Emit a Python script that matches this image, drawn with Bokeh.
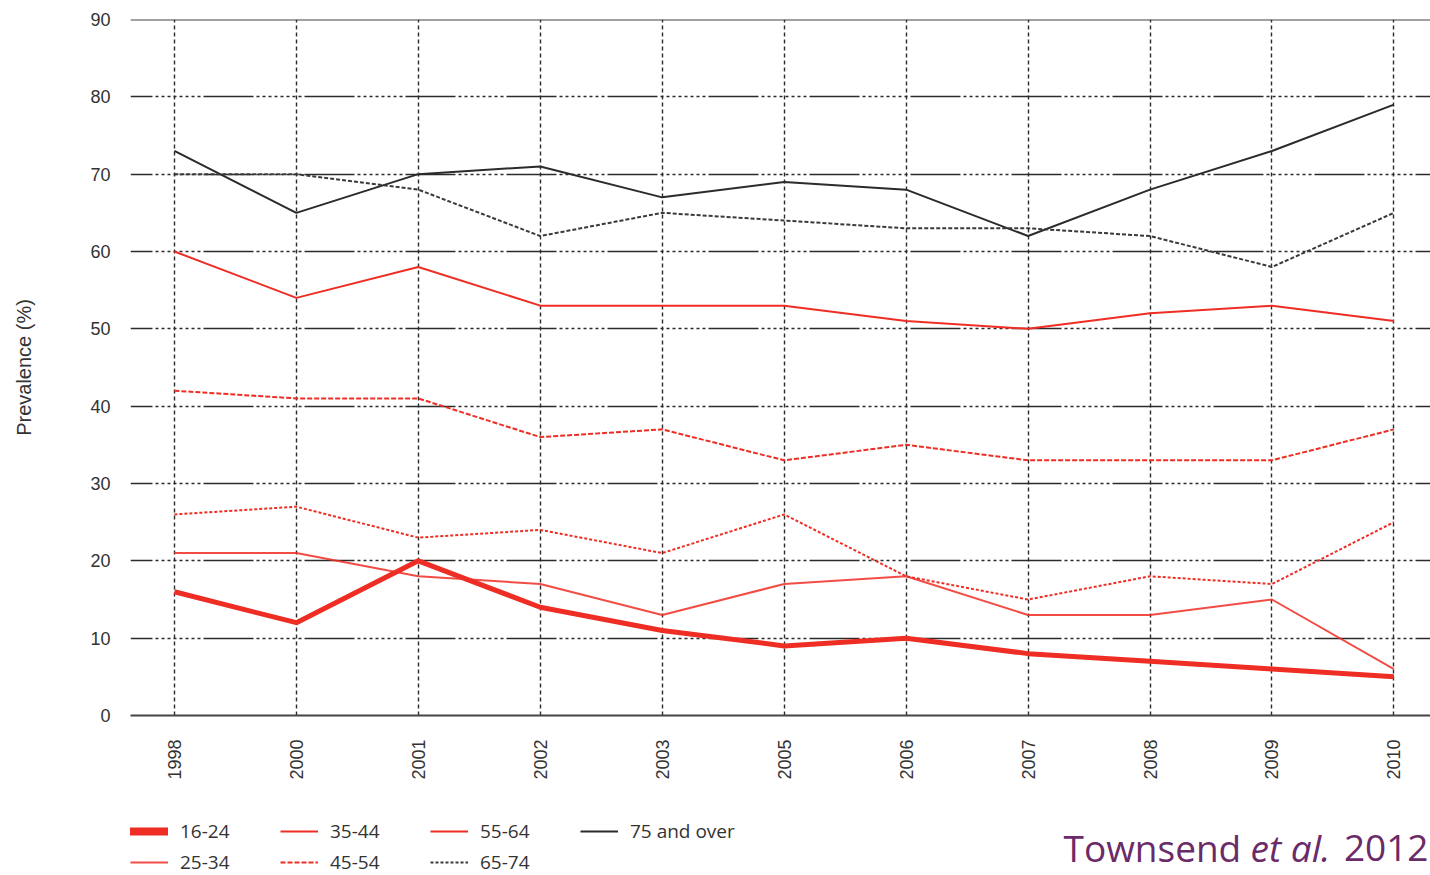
import math

from bokeh.embed import file_html
from bokeh.layouts import column
from bokeh.models import FixedTicker, Label, Legend, LegendItem, Range1d, Span
from bokeh.plotting import figure
from bokeh.resources import INLINE

# Survey years (categorical, evenly spaced on the x axis)
years = ["1998", "2000", "2001", "2002", "2003", "2005", "2006", "2007", "2008", "2009", "2010"]

# Prevalence (%) by age group
age_16_24 = [16, 12, 20, 14, 11, 9, 10, 8, 7, 6, 5]
age_25_34 = [21, 21, 18, 17, 13, 17, 18, 13, 13, 15, 6]
age_35_44 = [26, 27, 23, 24, 21, 26, 18, 15, 18, 17, 25]
age_45_54 = [42, 41, 41, 36, 37, 33, 35, 33, 33, 33, 37]
age_55_64 = [60, 54, 58, 53, 53, 53, 51, 50, 52, 53, 51]
age_65_74 = [70, 70, 68, 62, 65, 64, 63, 63, 62, 58, 65]
age_75_over = [73, 65, 70, 71, 67, 69, 68, 62, 68, 73, 79]

group_labels = ["16-24", "25-34", "35-44", "45-54", "55-64", "65-74", "75 and over"]
y_ticks = [0, 10, 20, 30, 40, 50, 60, 70, 80, 90]

RED = "#ee2e24"
DARK = "#2b2b2b"
TEXT = "#333333"

x_idx = list(range(len(years)))

# line styles per age group (shared by the chart and the key)
styles = [
    dict(line_color=RED, line_width=5, line_join="round"),
    dict(line_color=RED, line_width=2, line_alpha=0.85),
    dict(line_color=RED, line_width=2, line_dash="3 2"),
    dict(line_color=RED, line_width=2, line_dash="5 2"),
    dict(line_color=RED, line_width=2),
    dict(line_color="#3a3a3a", line_width=2, line_dash="4 2"),
    dict(line_color=DARK, line_width=2),
]
series = [age_16_24, age_25_34, age_35_44, age_45_54, age_55_64, age_65_74, age_75_over]

p = figure(
    width=1430, height=790,
    output_backend="svg", toolbar_location=None,
    x_range=Range1d(-0.36, 10.3), y_range=Range1d(0, 90),
    min_border_left=130, min_border_right=0,
    min_border_top=19, min_border_bottom=75,
)
p.outline_line_color = None
p.background_fill_color = "white"
p.border_fill_color = "white"

# y axis: labels only, no axis line or ticks
p.yaxis.ticker = FixedTicker(ticks=y_ticks)
p.yaxis.axis_line_color = None
p.yaxis.major_tick_line_color = None
p.yaxis.minor_tick_line_color = None
p.yaxis.major_label_standoff = 14
p.yaxis.major_label_text_font = "Liberation Sans"
p.yaxis.major_label_text_font_size = "18px"
p.yaxis.major_label_text_color = TEXT
p.yaxis.axis_label = "Prevalence (%)"
p.yaxis.axis_label_text_font = "Liberation Sans"
p.yaxis.axis_label_text_font_style = "normal"
p.yaxis.axis_label_text_font_size = "20px"
p.yaxis.axis_label_text_color = TEXT
p.yaxis.axis_label_standoff = 52

# x axis: solid baseline, rotated year labels
p.xaxis.ticker = FixedTicker(ticks=x_idx)
p.xaxis.major_label_overrides = {i: y for i, y in zip(x_idx, years)}
p.xaxis.major_label_orientation = math.pi / 2
p.xaxis.axis_line_color = "#444444"
p.xaxis.axis_line_width = 2
p.xaxis.major_tick_line_color = None
p.xaxis.minor_tick_line_color = None
p.xaxis.major_label_standoff = 18
p.xaxis.major_label_text_font = "Liberation Sans"
p.xaxis.major_label_text_font_size = "18px"
p.xaxis.major_label_text_color = TEXT

# grid: dashed verticals, dash-dot horizontals
p.xgrid.ticker = FixedTicker(ticks=x_idx)
p.xgrid.grid_line_color = DARK
p.xgrid.grid_line_width = 1.4
p.xgrid.grid_line_dash = "4 3"

p.ygrid.ticker = FixedTicker(ticks=[10, 20, 30, 40, 50, 60, 70, 80])
p.ygrid.grid_line_color = DARK
p.ygrid.grid_line_width = 1.4
p.ygrid.grid_line_dash = "50 3 3 3 3 3 3 3 3 3 3 3 3 3 3 3 3 3"
p.ygrid.grid_line_dash_offset = 28

p.add_layout(Span(location=90, dimension="width", line_color="#444444", line_width=2))

# series lines, oldest group drawn first so the youngest sits on top
for vals, st in reversed(list(zip(series, styles))):
    p.line(x_idx, vals, **st)

# key and citation strip under the chart; its frame lines up with the chart frame
k = figure(
    width=1430, height=85,
    output_backend="svg", toolbar_location=None,
    x_range=Range1d(0, 1300), y_range=Range1d(0, 85),
    x_axis_location=None, y_axis_location=None,
    min_border_left=130, min_border_right=0, min_border_top=0, min_border_bottom=0,
)
k.grid.visible = False
k.outline_line_color = None

key_styles = [dict(st) for st in styles]
key_styles[0].update(line_width=8, line_cap="round")
key_styles[2].update(line_dash="solid")
key_styles[5].update(line_dash="3 2")
nan = float("nan")
proxies = [k.line(x=[nan, nan], y=[nan, nan], **st) for st in key_styles]

legend = Legend(
    items=[LegendItem(label=lab, renderers=[r]) for lab, r in zip(group_labels, proxies)],
    orientation="vertical", nrows=2,
    location=(0, 0),
    glyph_width=38, glyph_height=20, label_height=20,
    label_width=95, label_standoff=12, spacing=5,
    padding=0, margin=0,
    border_line_color=None, background_fill_alpha=0,
    label_text_font="Open Sans", label_text_font_size="19px",
    label_text_color=TEXT,
)
k.add_layout(legend)

# citation, offsets measured from the frame's left edge
cite_color = "#6b2a68"
for txt, cx, style, align in [("Townsend", 933, "normal", "left"),
                              ("et al.", 1120, "italic", "left"),
                              ("2012", 1298, "normal", "right")]:
    k.add_layout(Label(x=cx, y=28, x_units="screen", y_units="screen",
                       text=txt, text_font="Open Sans",
                       text_font_size="37px", text_font_style=style,
                       text_color=cite_color, text_align=align,
                       text_baseline="alphabetic"))

layout = column(p, k, spacing=0)
open("out.html", "w").write(file_html(layout, INLINE))
